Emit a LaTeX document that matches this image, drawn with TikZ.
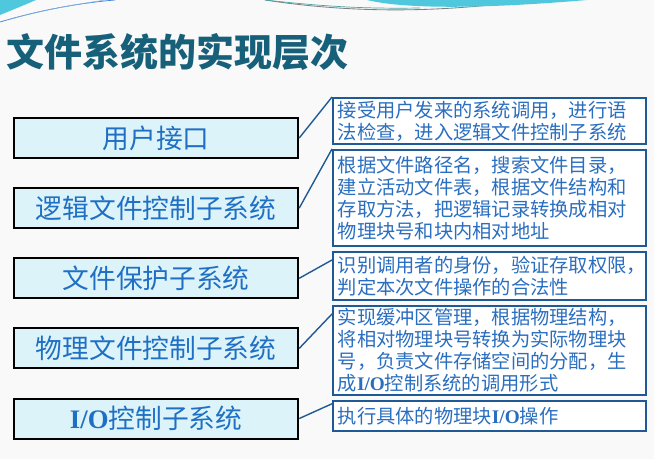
\documentclass[tikz,border=0pt]{standalone}
\usepackage{fontspec}
\setmainfont{Liberation Serif}
\newfontfamily\cjk{Noto Sans CJK SC}
\usetikzlibrary{positioning}

\definecolor{paper}{HTML}{F9F9F9}
\definecolor{titleteal}{HTML}{17607A}
\definecolor{layerfill}{HTML}{DCF4F9}
\definecolor{layertext}{HTML}{1F6FC4}
\definecolor{descline}{HTML}{1F5A96}
\definecolor{desctext}{HTML}{2A6EC0}
\definecolor{wavecyan}{HTML}{4FC8DE}
\definecolor{waveblue}{HTML}{3A7FD0}

\begin{document}
\begin{tikzpicture}[
  x=0.025cm, y=-0.025cm,
  layer/.style={draw=black, line width=1.5pt, fill=layerfill, text=layertext, minimum width=7.1cm, minimum height=1.0cm, inner sep=0pt, font=\cjk\fontsize{19}{22}\selectfont},
  desc/.style={draw=descline, line width=1.4pt, fill=white, text=desctext, text width=7.585cm, inner xsep=0.12cm, inner ysep=0pt, align=left, font=\cjk\fontsize{13.7}{15.6}\selectfont},
  link/.style={draw=descline, line width=1pt}
]

% page and top waves
\fill[paper] (0,0) rectangle (654,459);
\useasboundingbox (0,0) rectangle (654,459);
\fill[wavecyan] (0,0) -- (36,0) .. controls (22,6) .. (0,15) -- cycle;
\draw[waveblue, line width=0.5pt] (0,22) .. controls (40,10) and (80,3) .. (115,0);
\draw[waveblue!60, line width=0.4pt] (8,20) .. controls (45,9) and (80,4) .. (105,0);
\draw[gray, line width=0.6pt] (265,0) .. controls (330,10) and (420,16) .. (530,0);
\draw[teal!70, line width=0.5pt] (265,0) .. controls (320,6) and (360,9) .. (420,8);
\fill[wavecyan] (367,0) .. controls (400,8) and (470,10) .. (587,0) -- cycle;

\node[anchor=west, text=titleteal, font=\cjk\bfseries\fontsize{27}{27}\selectfont] (title) at (2,52) {文件系统的实现层次};

% layers
\node[layer, anchor=north west] (user) at (13,117) {用户接口};
\node[layer, below=0.7cm of user] (logic) {逻辑文件控制子系统};
\node[layer, below=0.7cm of logic] (protect) {文件保护子系统};
\node[layer, below=0.7cm of protect] (phys) {物理文件控制子系统};
\node[layer, below=0.7cm of phys] (io) {{\rmfamily\bfseries I/O}控制子系统};

% descriptions
\node[desc, anchor=north west, minimum height=1.15cm] (userdesc) at (332,97) {接受用户发来的系统调用，进行语\\法检查，进入逻辑文件控制子系统};
\node[desc, below=0.1cm of userdesc, minimum height=2.4cm] (logicdesc) {根据文件路径名，搜索文件目录，\\建立活动文件表，根据文件结构和\\存取方法，把逻辑记录转换成相对\\物理块号和块内相对地址};
\node[desc, below=0.1cm of logicdesc, minimum height=1.2cm] (protectdesc) {识别调用者的身份，验证存取权限，\\判定本次文件操作的合法性};
\node[desc, below=0.1cm of protectdesc, minimum height=2.22cm] (physdesc) {实现缓冲区管理，根据物理结构，\\将相对物理块号转换为实际物理块\\号，负责文件存储空间的分配，生\\成{\rmfamily\bfseries I/O}控制系统的调用形式};
\node[desc, below=0.1cm of physdesc, minimum height=0.75cm] (iodesc) {执行具体的物理块{\rmfamily\bfseries I/O}操作};

\draw[link] (user.east) -- (userdesc.north west);
\draw[link] (logic.east) -- (logicdesc.north west);
\draw[link] (protect.east) -- ([yshift=-0.225cm]protectdesc.north west);
\draw[link] (phys.east) -- ([yshift=-0.225cm]physdesc.north west);
\draw[link] (io.east) -- ([yshift=-0.1cm]iodesc.north west);

\end{tikzpicture}
\end{document}
